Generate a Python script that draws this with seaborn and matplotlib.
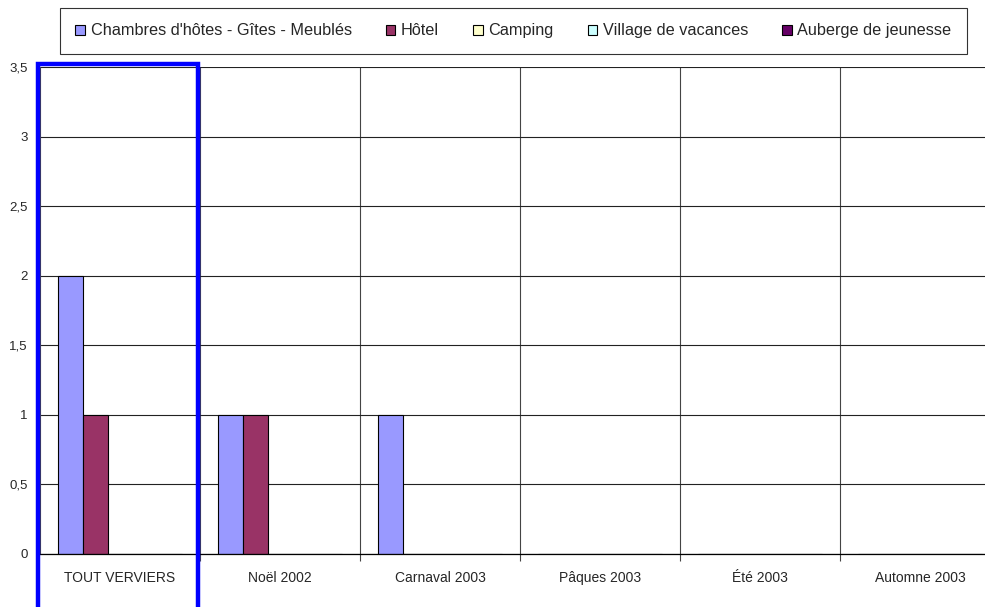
import matplotlib
matplotlib.use("Agg")
import matplotlib.pyplot as plt
import pandas as pd
import seaborn as sns
from matplotlib.patches import Rectangle
from matplotlib.ticker import FuncFormatter, FixedLocator

categories = ["TOUT VERVIERS", "Noël 2002", "Carnaval 2003", "Pâques 2003", "Été 2003", "Automne 2003"]
series = ["Chambres d'hôtes - Gîtes - Meublés", "Hôtel", "Camping", "Village de vacances", "Auberge de jeunesse"]
chambres = [2, 1, 1, 0, 0, 0]
hotel = [1, 1, 0, 0, 0, 0]
camping = [0, 0, 0, 0, 0, 0]
village = [0, 0, 0, 0, 0, 0]
auberge = [0, 0, 0, 0, 0, 0]
colors = ["#9999FF", "#993366", "#FFFFCC", "#CCFFFF", "#660066"]

rows = []
for name, vals in zip(series, [chambres, hotel, camping, village, auberge]):
    for cat, v in zip(categories, vals):
        rows.append({"cat": cat, "serie": name, "val": v})
df = pd.DataFrame(rows)

sns.set_style("white")
plt.rcParams["font.family"] = ["Liberation Sans", "DejaVu Sans"]

W, H = 985, 607
fig = plt.figure(figsize=(W / 100, H / 100), dpi=100)
ax = fig.add_axes([40 / W, 1 - 554 / H, 960 / W, 487 / H])

sns.barplot(data=df, x="cat", y="val", hue="serie", hue_order=series, order=categories,
            palette=colors, width=0.77, edgecolor="black", linewidth=0.8,
            saturation=1, errorbar=None, legend=False, ax=ax)

ax.set_xlim(-0.5, len(categories) - 0.5)
ax.set_ylim(0, 3.5)
ax.set_yticks([0, 0.5, 1, 1.5, 2, 2.5, 3, 3.5])
ax.yaxis.set_major_formatter(FuncFormatter(lambda v, p: f"{v:g}".replace(".", ",")))
ax.grid(axis="y", color="#222222", linewidth=0.8)
ax.set_axisbelow(True)
ax.xaxis.set_minor_locator(FixedLocator([i + 0.5 for i in range(len(categories))]))
ax.grid(axis="x", which="minor", color="#444444", linewidth=0.8)
ax.grid(axis="x", which="major", visible=False)
ax.tick_params(axis="x", which="major", length=0, labelsize=10, pad=12)
ax.tick_params(axis="x", which="minor", length=5, width=0.8, color="#444444", direction="out", bottom=True)
ax.tick_params(axis="y", length=0, labelsize=9.5, pad=9)
ax.set_xlabel("")
ax.set_ylabel("")
for s in ["top", "right"]:
    ax.spines[s].set_visible(False)
ax.spines["bottom"].set_color("black")
ax.spines["bottom"].set_linewidth(0.9)
ax.spines["left"].set_color("#444444")

# blue highlight frame around first category
ax.add_patch(Rectangle((-0.5 - 2 / 160, -1.0), 1.0 - 0.5 / 160, 3.5 + 1.0 + 3 * 3.5 / 487,
                       fill=False, edgecolor="#0000FF", linewidth=3.2, clip_on=False, zorder=5))

handles = [Rectangle((0, 0), 1, 1, facecolor=c, edgecolor="black", linewidth=0.8) for c in colors]
leg = fig.legend(handles, series, loc="upper left", ncol=5,
                 bbox_to_anchor=(60 / W, 1 - 8 / H),
                 fontsize=11.7, frameon=True, fancybox=False, edgecolor="black",
                 handlelength=0.58, handleheight=0.58, handletextpad=0.35, borderaxespad=0,
                 borderpad=0.95, columnspacing=2.1)
leg.get_frame().set_linewidth(0.8)

fig.savefig("out.png", dpi=100)
